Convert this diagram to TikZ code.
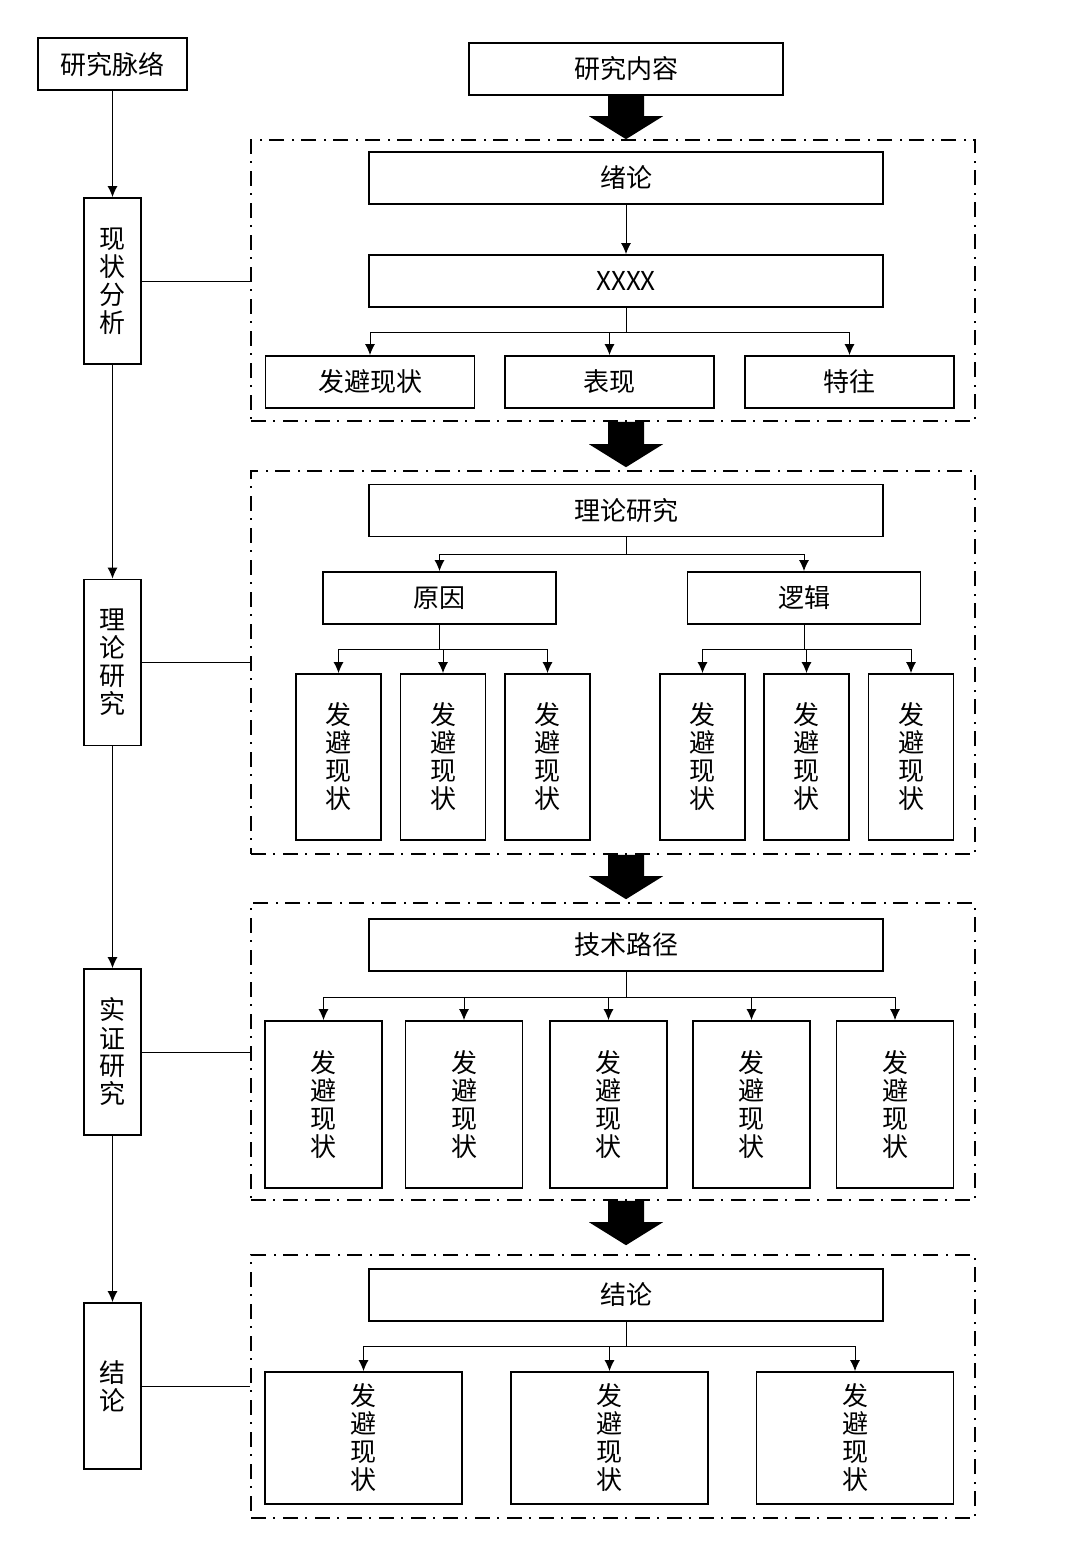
\documentclass[tikz,border=0pt]{standalone}
\usepackage{fontspec}
\setmainfont{Noto Sans CJK SC}
\usepackage{xcolor}
\usepackage{tikz}
\usetikzlibrary{arrows.meta, positioning, calc}

\begin{document}
\begin{tikzpicture}[
    x=0.5pt, y=-0.5pt,
    cell/.style={draw, line width=0.9pt, minimum width=#1, minimum height=26pt, inner sep=0pt, align=center, font=\fontsize{13}{14}\selectfont},
    cell/.default=257pt,
    vcell/.style 2 args={draw, line width=0.9pt, minimum width=#1, minimum height=#2, inner sep=0pt, align=center, font=\fontsize{13}{14}\selectfont},
    dashframe/.style 2 args={draw, line width=0.8pt, dash pattern=on 7.5pt off 3.5pt on 1pt off 4pt, minimum width=#1, minimum height=#2, inner sep=0pt},
    link/.style={line width=0.5pt},
    tip/.style={line width=0.5pt, -{Latex[length=5.5pt,width=5pt]}}
]
    \useasboundingbox (0,0) rectangle (1080,1559);

    % left column
    \node[cell=74.5pt] (mailuo) at (112.5,64) {研究脉络};
    \node[vcell={28.5pt}{83pt}] (xianzhuang) at (112.5,281) {现\\状\\分\\析};
    \node[vcell={28.5pt}{83pt}] (lilun) at (112.5,662.5) {理\\论\\研\\究};
    \node[vcell={28.5pt}{83pt}] (shizheng) at (112.5,1052) {实\\证\\研\\究};
    \node[vcell={28.5pt}{83pt}] (jielun) at (112.5,1386) {结\\论};
    \draw[tip] (mailuo) -- (xianzhuang);
    \draw[tip] (xianzhuang) -- (lilun);
    \draw[tip] (lilun) -- (shizheng);
    \draw[tip] (shizheng) -- (jielun);

    % frames
    \node[dashframe={362pt}{140.5pt}] (f1) at (613,280.5) {};
    \node[dashframe={362pt}{191.5pt}] (f2) at (613,662.5) {};
    \node[dashframe={362pt}{148.5pt}] (f3) at (613,1051.5) {};
    \node[dashframe={362pt}{131.5pt}] (f4) at (613,1386.5) {};
    \draw[link] (xianzhuang.east) -- (xianzhuang.east -| f1.west);
    \draw[link] (lilun.east) -- (lilun.east -| f2.west);
    \draw[link] (shizheng.east) -- (shizheng.east -| f3.west);
    \draw[link] (jielun.east) -- (jielun.east -| f4.west);

    % research content
    \node[cell=157pt] (neirong) at (626,69) {研究内容};

    % part 1
    \node[cell] (xulun) at (626,178) {绪论};
    \node[cell] (xxxx) at (626,281) {XXXX};
    \node[cell=104.5pt] (a1) at (370,382) {发避现状};
    \node[cell=104.5pt] (a2) at (609.5,382) {表现};
    \node[cell=104.5pt] (a3) at (849.5,382) {特往};
    \draw[tip] (xulun) -- (xxxx);
    \draw[tip] (xxxx.south) -- ++(0,25) -| (a1.north);
    \draw[tip] (xxxx.south) -- ++(0,25) -| (a2.north);
    \draw[tip] (xxxx.south) -- ++(0,25) -| (a3.north);

    % part 2
    \node[cell] (lilunyj) at (626,510.5) {理论研究};
    \node[cell=116.5pt] (yuanyin) at (439.5,598) {原因};
    \node[cell=116.5pt] (luoji) at (804,598) {逻辑};
    \node[vcell={42.5pt}{83pt}] (b1) at (338.5,757) {发\\避\\现\\状};
    \node[vcell={42.5pt}{83pt}] (b2) at (443,757) {发\\避\\现\\状};
    \node[vcell={42.5pt}{83pt}] (b3) at (547.5,757) {发\\避\\现\\状};
    \node[vcell={42.5pt}{83pt}] (b4) at (702.5,757) {发\\避\\现\\状};
    \node[vcell={42.5pt}{83pt}] (b5) at (806.5,757) {发\\避\\现\\状};
    \node[vcell={42.5pt}{83pt}] (b6) at (911,757) {发\\避\\现\\状};
    \draw[tip] (lilunyj.south) -- ++(0,17) -| (yuanyin.north);
    \draw[tip] (lilunyj.south) -- ++(0,17) -| (luoji.north);
    \draw[tip] (yuanyin.south) -- ++(0,25) -| (b1.north);
    \draw[tip] (yuanyin.south) -- ++(0,25) -| (b2.north);
    \draw[tip] (yuanyin.south) -- ++(0,25) -| (b3.north);
    \draw[tip] (luoji.south) -- ++(0,25) -| (b4.north);
    \draw[tip] (luoji.south) -- ++(0,25) -| (b5.north);
    \draw[tip] (luoji.south) -- ++(0,25) -| (b6.north);

    % part 3
    \node[cell] (lujing) at (626,945) {技术路径};
    \node[vcell={58.5pt}{83.5pt}] (c1) at (323.5,1104.5) {发\\避\\现\\状};
    \node[vcell={58.5pt}{83.5pt}] (c2) at (464,1104.5) {发\\避\\现\\状};
    \node[vcell={58.5pt}{83.5pt}] (c3) at (608.5,1104.5) {发\\避\\现\\状};
    \node[vcell={58.5pt}{83.5pt}] (c4) at (751.5,1104.5) {发\\避\\现\\状};
    \node[vcell={58.5pt}{83.5pt}] (c5) at (895,1104.5) {发\\避\\现\\状};
    \draw[tip] (lujing.south) -- ++(0,26) -| (c1.north);
    \draw[tip] (lujing.south) -- ++(0,26) -| (c2.north);
    \draw[tip] (lujing.south) -- ++(0,26) -| (c3.north);
    \draw[tip] (lujing.south) -- ++(0,26) -| (c4.north);
    \draw[tip] (lujing.south) -- ++(0,26) -| (c5.north);

    % part 4
    \node[cell] (jielunbox) at (626,1295) {结论};
    \node[vcell={98.5pt}{66pt}] (d1) at (363.5,1438) {发\\避\\现\\状};
    \node[vcell={98.5pt}{66pt}] (d2) at (609.5,1438) {发\\避\\现\\状};
    \node[vcell={98.5pt}{66pt}] (d3) at (855,1438) {发\\避\\现\\状};
    \draw[tip] (jielunbox.south) -- ++(0,25) -| (d1.north);
    \draw[tip] (jielunbox.south) -- ++(0,25) -| (d2.north);
    \draw[tip] (jielunbox.south) -- ++(0,25) -| (d3.north);

    % big arrows
    \coordinate (s1) at (neirong.south);
    \coordinate (t1) at (neirong.south |- f1.north);
    \coordinate (s2) at (neirong.south |- f1.south);
    \coordinate (t2) at ($(neirong.south |- f2.north)+(0,-3)$);
    \coordinate (s3) at (neirong.south |- f2.south);
    \coordinate (t3) at ($(neirong.south |- f3.north)+(0,-3)$);
    \coordinate (s4) at (neirong.south |- f3.south);
    \coordinate (t4) at ($(neirong.south |- f4.north)+(0,-9)$);
    \fill ($(s1)+(-18,0)$) -- ($(t1)+(-18,-23)$) -- ($(t1)+(-37,-23)$) -- (t1) -- ($(t1)+(37,-23)$) -- ($(t1)+(18,-23)$) -- ($(s1)+(18,0)$) -- cycle;
    \fill ($(s2)+(-18,0)$) -- ($(t2)+(-18,-23)$) -- ($(t2)+(-37,-23)$) -- (t2) -- ($(t2)+(37,-23)$) -- ($(t2)+(18,-23)$) -- ($(s2)+(18,0)$) -- cycle;
    \fill ($(s3)+(-18,0)$) -- ($(t3)+(-18,-23)$) -- ($(t3)+(-37,-23)$) -- (t3) -- ($(t3)+(37,-23)$) -- ($(t3)+(18,-23)$) -- ($(s3)+(18,0)$) -- cycle;
    \fill ($(s4)+(-18,0)$) -- ($(t4)+(-18,-23)$) -- ($(t4)+(-37,-23)$) -- (t4) -- ($(t4)+(37,-23)$) -- ($(t4)+(18,-23)$) -- ($(s4)+(18,0)$) -- cycle;
\end{tikzpicture}
\end{document}
